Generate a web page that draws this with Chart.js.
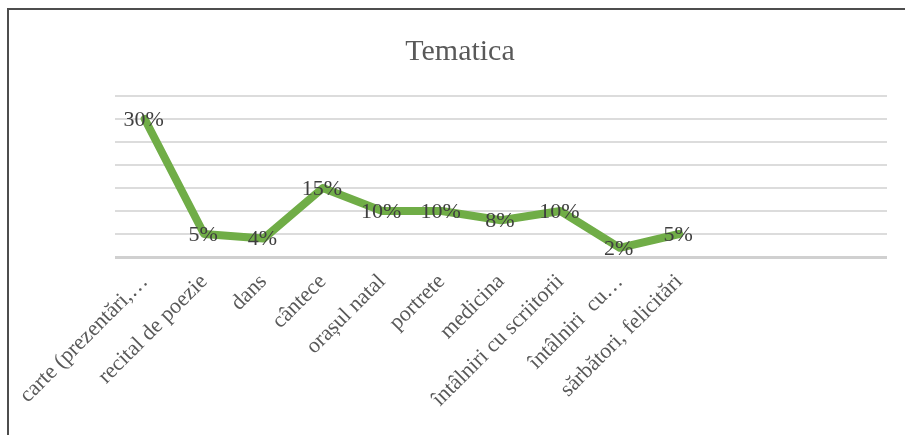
<!DOCTYPE html>
<html>
<head>
<meta charset="utf-8">
<script src="https://cdn.jsdelivr.net/npm/chart.js@4"></script>
<style>
  body { margin: 0; background: #fff; }
  #wrap { position: relative; width: 905px; height: 435px; }
  #frame { position: absolute; left: 7px; top: 8px; right: -10px; bottom: -10px;
           border-left: 2px solid #4d4d4d; border-top: 2px solid #4d4d4d; pointer-events: none; }
</style>
</head>
<body>
<div id="wrap">
  <canvas id="chart1" width="905" height="435"></canvas>
  <div id="frame"></div>
</div>
<script>
        // chart tematica
        const categories = [
            'carte (prezentări,…',
            'recital de poezie',
            'dans',
            'cântece',
            'orașul natal',
            'portrete',
            'medicina',
            'întâlniri cu scriitorii',
            'întâlniri  cu…',
            'sărbători, felicitări',
            '', '', ''
        ];
        const procente = [30, 5, 4, 15, 10, 10, 8, 10, 2, 5];
        const yTicks = [0, 5, 10, 15, 20, 25, 30, 35];

        const serif = '"Liberation Serif", "Times New Roman", serif';

        // etichete de date, centrate pe punct
        const etichete = {
            id: 'etichete',
            afterDatasetsDraw(chart) {
                const ctx = chart.ctx;
                const meta = chart.getDatasetMeta(0);
                ctx.save();
                ctx.font = '22px ' + serif;
                ctx.fillStyle = '#3f3f3f';
                ctx.textAlign = 'center';
                ctx.textBaseline = 'middle';
                meta.data.forEach((p, i) => {
                    ctx.fillText(procente[i] + '%', p.x - 1, p.y + 1);
                });
                ctx.restore();
            }
        };

        const ctx1 = document.getElementById('chart1');

        new Chart(ctx1, {
        type: 'line',
        data: {
            labels: categories,
            datasets: [{
                label: 'Tematica',
                data: procente,
                borderColor: '#70ad47',
                borderWidth: 8,
                pointRadius: 0,
                tension: 0,
                borderJoinStyle: 'round',
                borderCapStyle: 'round',
            }]
        },
        plugins: [etichete],
        options: {
            responsive: false,
            animation: false,
            layout: {
                padding: { left: 33, right: 18, top: 13, bottom: 0 }
            },
            plugins: {
                legend: { display: false },
                tooltip: { enabled: false },
                title: {
                    display: true,
                    text: 'Tematica',
                    color: '#595959',
                    font: { family: serif, size: 30, weight: 'normal' },
                    padding: { top: 21, bottom: 26 }
                },
            },
            scales: {
                x: {
                    offset: true,
                    grid: { display: false },
                    border: { display: false },
                    ticks: {
                        autoSkip: false,
                        minRotation: 45,
                        maxRotation: 45,
                        color: '#595959',
                        padding: 4,
                        font: { family: serif, size: 22 }
                    },
                    afterFit(scale) { scale.height = 178; }
                },
                y: {
                    min: yTicks[0],
                    max: yTicks[yTicks.length - 1],
                    afterBuildTicks(scale) { scale.ticks = yTicks.map(v => ({ value: v })); },
                    ticks: { display: false },
                    border: { display: false },
                    grid: {
                        drawTicks: false,
                        color: (c) => c.tick && c.tick.value === 0 ? '#d0d0d0' : '#dcdcdc',
                        lineWidth: (c) => c.tick && c.tick.value === 0 ? 3 : 2
                    },
                    afterFit(scale) { scale.width = 82; }
                }
            }
        }
        });
</script>
</body>
</html>
